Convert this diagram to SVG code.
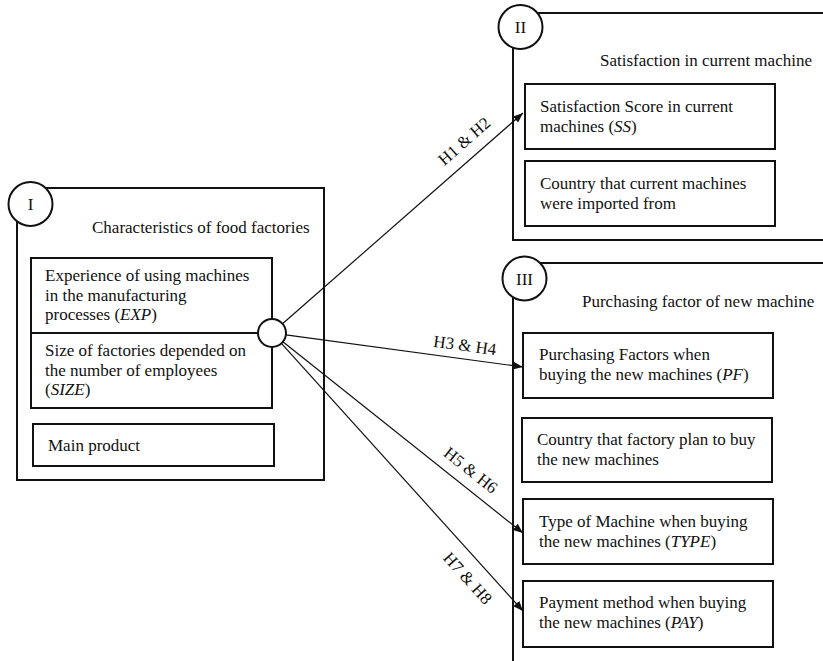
<svg xmlns="http://www.w3.org/2000/svg" width="823" height="661" viewBox="0 0 823 661">
<defs>
<style>
.box{fill:none;stroke:#111;stroke-width:2}
.ibox{fill:#fff;stroke:#111;stroke-width:2}
.circ{fill:#fff;stroke:#111;stroke-width:2}
text{font-family:"Liberation Serif","Times New Roman",serif;font-size:17px;fill:#111}
.lbl{text-anchor:middle}
.it{font-style:italic}
.conn{stroke:#111;stroke-width:1.2;fill:none;marker-end:url(#arr)}
</style>
<marker id="arr" markerUnits="userSpaceOnUse" markerWidth="11" markerHeight="9" refX="10" refY="4" orient="auto">
<path d="M0,0 L10,4 L0,8 z" fill="#111"/>
</marker>
</defs>
<rect width="823" height="661" fill="#fff"/>

<g id="groupI">
<rect class="box" x="17" y="188" width="307" height="292"/>
<circle class="circ" cx="30.5" cy="204" r="22"/>
<text class="lbl" x="30.5" y="210">I</text>
<text x="92" y="233">Characteristics of food factories</text>
</g>
<g id="exp">
<rect class="ibox" x="31" y="258" width="241" height="75"/>
<text x="45" y="281">Experience of using machines</text>
<text x="45" y="301">in the manufacturing</text>
<text x="45" y="320">processes (<tspan class="it">EXP</tspan>)</text>
</g>
<g id="size">
<rect class="ibox" x="31" y="333" width="241" height="75"/>
<text x="45" y="356">Size of factories depended on</text>
<text x="45" y="376">the number of employees</text>
<text x="45" y="395">(<tspan class="it">SIZE</tspan>)</text>
</g>
<g id="mainproduct">
<rect class="ibox" x="33" y="424" width="241" height="42"/>
<text x="48" y="451">Main product</text>
</g>

<g id="groupII">
<rect class="box" x="513" y="13" width="320" height="227"/>
<circle class="circ" cx="520.5" cy="27" r="22"/>
<text class="lbl" x="520.5" y="33">II</text>
<text x="600" y="66">Satisfaction in current machine</text>
</g>
<g id="ss">
<rect class="ibox" x="525" y="84" width="250" height="65"/>
<text x="540" y="112">Satisfaction Score in current</text>
<text x="540" y="132">machines (<tspan class="it">SS</tspan>)</text>
</g>
<g id="country1">
<rect class="ibox" x="525" y="161" width="250" height="65"/>
<text x="540" y="189">Country that current machines</text>
<text x="540" y="209">were imported from</text>
</g>

<g id="groupIII">
<rect class="box" x="513" y="263" width="320" height="420"/>
<circle class="circ" cx="524.5" cy="278.5" r="22"/>
<text class="lbl" x="524.5" y="284.5">III</text>
<text x="582" y="307">Purchasing factor of new machine</text>
</g>
<g id="pf">
<rect class="ibox" x="523" y="333" width="250" height="65"/>
<text x="539" y="360">Purchasing Factors when</text>
<text x="539" y="380">buying the new machines (<tspan class="it">PF</tspan>)</text>
</g>
<g id="country2">
<rect class="ibox" x="522" y="418" width="250" height="64"/>
<text x="537" y="445">Country that factory plan to buy</text>
<text x="537" y="465">the new machines</text>
</g>
<g id="type">
<rect class="ibox" x="523" y="499" width="250" height="65"/>
<text x="539" y="527">Type of Machine when buying</text>
<text x="539" y="547">the new machines (<tspan class="it">TYPE</tspan>)</text>
</g>
<g id="pay">
<rect class="ibox" x="523" y="581" width="250" height="66"/>
<text x="539" y="608">Payment method when buying</text>
<text x="539" y="628">the new machines (<tspan class="it">PAY</tspan>)</text>
</g>

<g id="connectors">
<line class="conn" x1="282.5" y1="323.8" x2="523" y2="113"/>
<line class="conn" x1="285.9" y1="334.9" x2="523" y2="367"/>
<line class="conn" x1="282.9" y1="341.7" x2="523" y2="533"/>
<line class="conn" x1="281.4" y1="343.4" x2="523" y2="611"/>
<text class="lbl" transform="translate(464,141) rotate(-41.2)" y="6">H1 &amp; H2</text>
<text class="lbl" transform="translate(465,345) rotate(7.7)" y="6">H3 &amp; H4</text>
<text class="lbl" transform="translate(471,470) rotate(38.5)" y="6">H5 &amp; H6</text>
<text class="lbl" transform="translate(468,578) rotate(47.9)" y="6">H7 &amp; H8</text>
</g>
<g id="junction">
<circle class="circ" cx="272" cy="333" r="14"/>
</g>
</svg>
